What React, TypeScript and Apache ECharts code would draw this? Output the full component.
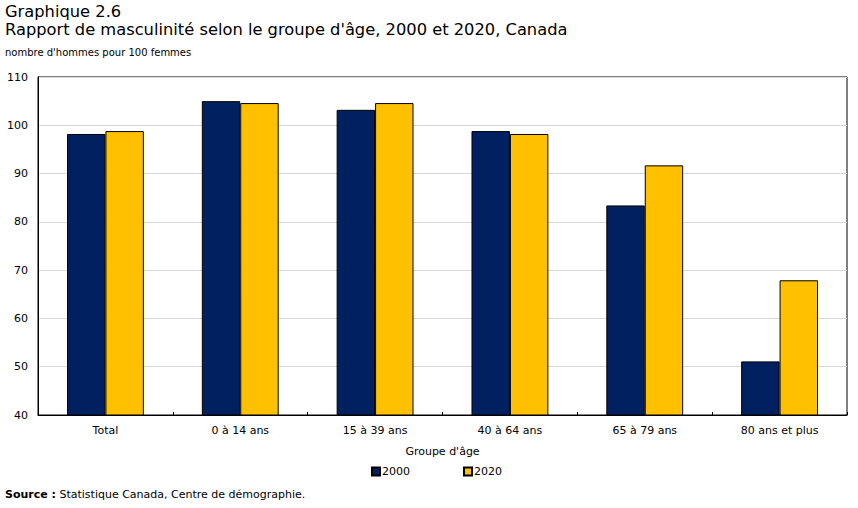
import React, { useEffect, useRef } from "react";
import * as echarts from "echarts";

const categories = ["Total", "0 à 14 ans", "15 à 39 ans", "40 à 64 ans", "65 à 79 ans", "80 ans et plus"];
const values2000 = [98.2, 105.0, 103.2, 98.8, 83.4, 51.1];
const values2020 = [98.8, 104.6, 104.6, 98.2, 91.7, 67.9];
const seriesNames = ["2000", "2020"];

const FONT = "'DejaVu Sans', Verdana, sans-serif";

export default function App() {
  const ref = useRef<HTMLDivElement>(null);

  useEffect(() => {
    if (!ref.current) return;
    document.body.style.margin = "0";
    const chart = echarts.init(ref.current, null, { renderer: "svg" });
    chart.setOption({
      animation: false,
      textStyle: { fontFamily: FONT },
      graphic: [
        {
          type: "text",
          left: 5,
          top: 3,
          style: { text: "Graphique 2.6", font: `16.3px ${FONT}`, fill: "#000" },
        },
        {
          type: "text",
          left: 5,
          top: 21,
          style: {
            text: "Rapport de masculinité selon le groupe d'âge, 2000 et 2020, Canada",
            font: `16.3px ${FONT}`,
            fill: "#000",
          },
        },
        {
          type: "text",
          left: 5,
          top: 47,
          style: { text: "nombre d'hommes pour 100 femmes", font: `10px ${FONT}`, fill: "#000" },
        },
        {
          type: "text",
          left: 5,
          top: 489,
          style: {
            text: "{b|Source :} Statistique Canada, Centre de démographie.",
            font: `11px ${FONT}`,
            fill: "#000",
            rich: {
              b: { fontWeight: "bold", fontFamily: FONT, fontSize: 11 },
            },
          },
        },
      ],
      legend: {
        data: seriesNames,
        left: 366,
        top: 461,
        itemWidth: 8,
        itemHeight: 8,
        itemGap: 53,
        icon: "rect",
        textStyle: { fontFamily: FONT, fontSize: 11, color: "#000", padding: [0, 0, 0, -3] },
      },
      grid: {
        left: 38,
        right: 11,
        top: 77,
        bottom: 93,
        show: true,
        borderColor: "#000",
        borderWidth: 1,
      },
      xAxis: {
        type: "category",
        data: categories,
        name: "Groupe d'âge",
        nameLocation: "middle",
        nameGap: 31,
        nameTextStyle: { fontFamily: FONT, fontSize: 11, color: "#000" },
        axisLine: { lineStyle: { color: "#000" } },
        axisTick: { show: true, inside: true, length: 3, lineStyle: { color: "#000" } },
        axisLabel: { fontFamily: FONT, fontSize: 11, color: "#000", margin: 10 },
      },
      yAxis: {
        type: "value",
        min: 40,
        max: 110,
        interval: 10,
        axisLine: { show: true, lineStyle: { color: "#000" } },
        axisTick: { show: false },
        axisLabel: { fontFamily: FONT, fontSize: 11, color: "#000", margin: 10 },
        splitLine: { lineStyle: { color: "#d9d9d9", width: 1 } },
      },
      series: [
        {
          name: seriesNames[0],
          type: "bar",
          data: values2000,
          barWidth: "28.5%",
          barGap: "0%",
          itemStyle: { color: "#002060", borderColor: "#000", borderWidth: 1 },
        },
        {
          name: seriesNames[1],
          type: "bar",
          data: values2020,
          barWidth: "28.5%",
          barGap: "0%",
          itemStyle: { color: "#FFC000", borderColor: "#000", borderWidth: 1 },
        },
      ],
    });
    return () => chart.dispose();
  }, []);

  return <div ref={ref} style={{ width: 858, height: 508 }} />;
}
